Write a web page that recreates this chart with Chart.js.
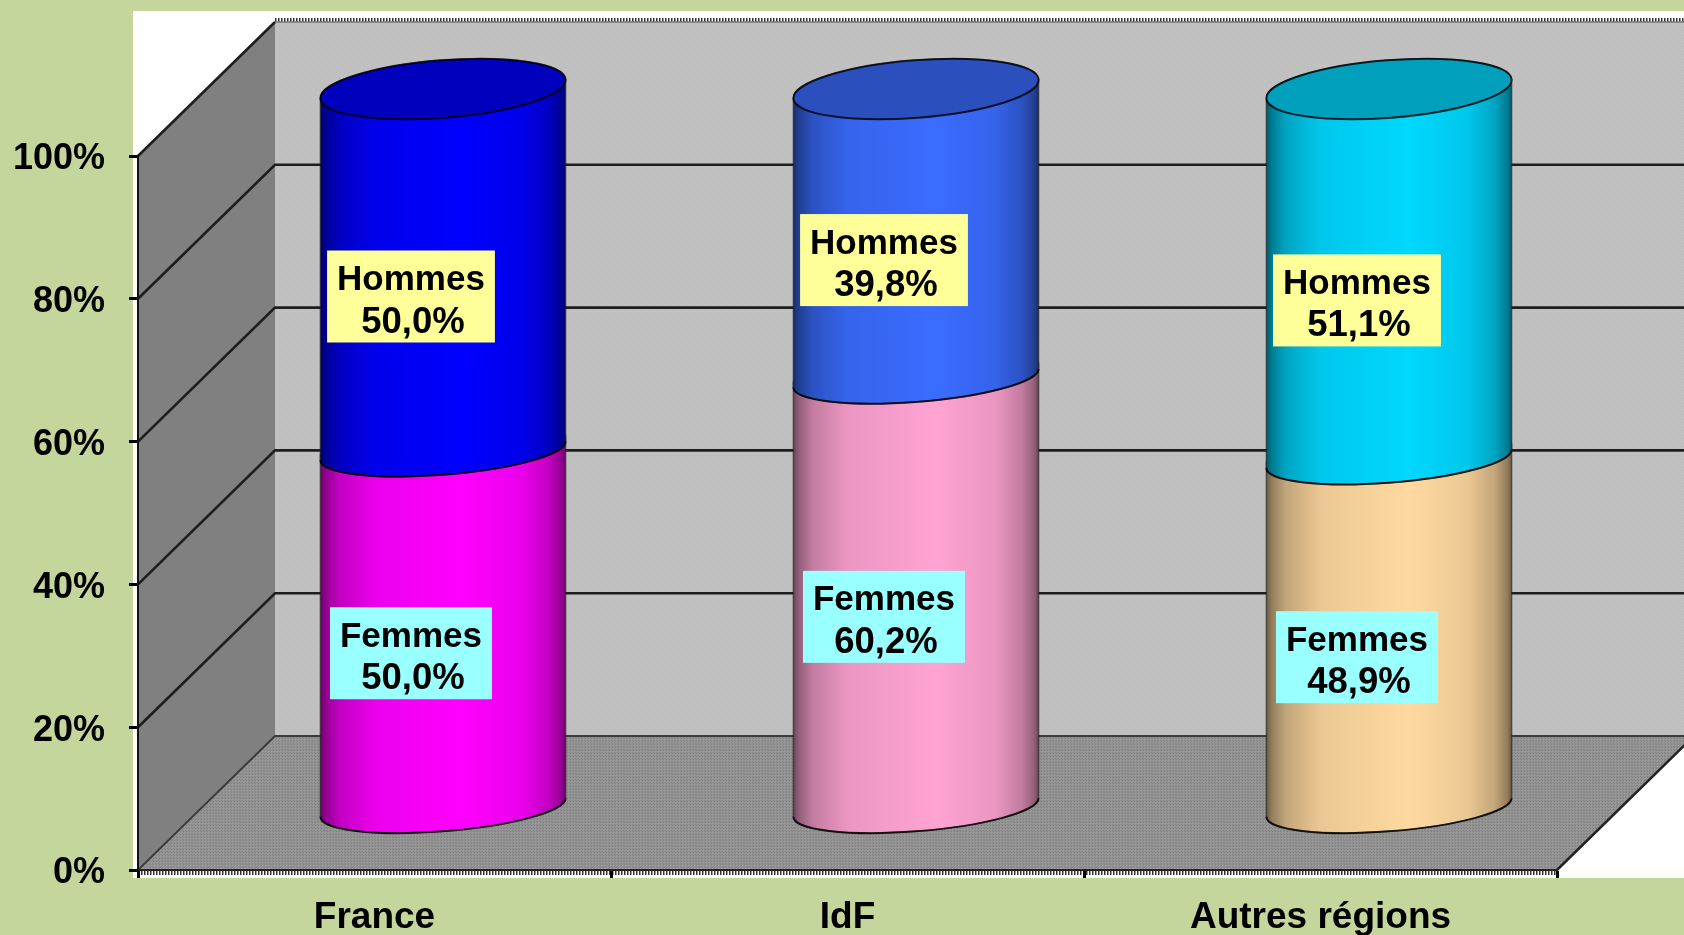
<!DOCTYPE html>
<html lang="fr">
<head>
<meta charset="utf-8">
<title>Hommes / Femmes</title>
<script src="https://cdn.jsdelivr.net/npm/chart.js@4"></script>
<style>
html,body{margin:0;padding:0;background:#c4d69b;overflow:hidden}
canvas{display:block}
</style>
</head>
<body>
<canvas id="c" width="1684" height="935"></canvas>
<script>
const categories = ['France', 'IdF', 'Autres régions'];
const femmes = [50.0, 60.2, 48.9];
const hommes = [50.0, 39.8, 51.1];
const femmesColors = ['#ff00ff', '#ffa3d3', '#ffd9a0'];
const hommesColors = ['#0000ff', '#3a6cff', '#00d8ff'];
const yTicks = [0, 20, 40, 60, 80, 100];

const DEPTH_X = 137, DEPTH_Y = 134;
const FONT = '"Liberation Sans", Arial, sans-serif';

function shade(hex, f) {
  const n = parseInt(hex.slice(1), 16);
  const r = Math.round(((n >> 16) & 255) * f), g = Math.round(((n >> 8) & 255) * f), b = Math.round((n & 255) * f);
  return `rgb(${r},${g},${b})`;
}
function pattern(ctx, size, base, dots) {
  const p = document.createElement('canvas');
  p.width = p.height = size;
  const g = p.getContext('2d');
  g.fillStyle = base; g.fillRect(0, 0, size, size);
  dots.forEach(([x, y, c]) => { g.fillStyle = c; g.fillRect(x, y, 1, 1); });
  return ctx.createPattern(p, 'repeat');
}
function poly(ctx, pts, fill) {
  ctx.beginPath();
  pts.forEach(([x, y], i) => i ? ctx.lineTo(x, y) : ctx.moveTo(x, y));
  ctx.closePath();
  ctx.fillStyle = fill;
  ctx.fill();
}

const sceneryPlugin = {
  id: 'scenery',
  beforeDraw(chart) {
    const { ctx, chartArea: a, scales: { y } } = chart;
    const W = chart.width;
    ctx.save();
    ctx.fillStyle = '#c4d69b'; ctx.fillRect(0, 0, W, chart.height);
    ctx.fillStyle = '#ffffff'; ctx.fillRect(133, 11, W - 133, 867);
    const L = a.left, R = a.right, B = a.bottom, T = a.top;
    poly(ctx, [[L + DEPTH_X, T - DEPTH_Y], [W + 20, T - DEPTH_Y], [W + 20, B - DEPTH_Y], [L + DEPTH_X, B - DEPTH_Y]],
      pattern(ctx, 8, '#c0c0c0', [[1, 1, '#c9c9c9'], [5, 5, '#c9c9c9'], [3, 6, '#b9b9b9']]));
    poly(ctx, [[L, T], [L + DEPTH_X, T - DEPTH_Y], [L + DEPTH_X, B - DEPTH_Y], [L, B]], '#808080');
    poly(ctx, [[L, B], [R, B], [R + DEPTH_X, B - DEPTH_Y], [L + DEPTH_X, B - DEPTH_Y]],
      pattern(ctx, 3, '#929292', [[0, 0, '#7f7f7f'], [1, 1, '#a0a0a0'], [2, 2, '#858585']]));
    yTicks.forEach(v => {
      const py = y.getPixelForValue(v);
      ctx.lineWidth = v === 0 ? 1.8 : 2.6;
      ctx.strokeStyle = v === 0 ? '#3a3a3a' : '#1e1e1e';
      ctx.beginPath();
      ctx.moveTo(L, py);
      ctx.lineTo(L + DEPTH_X, py - DEPTH_Y);
      if (v !== 100) ctx.lineTo(W + 20, py - DEPTH_Y);
      ctx.stroke();
    });
    ctx.strokeStyle = '#222'; ctx.lineWidth = 2.5;
    ctx.beginPath(); ctx.moveTo(R, B); ctx.lineTo(R + DEPTH_X, B - DEPTH_Y); ctx.stroke();
    ctx.strokeStyle = '#333'; ctx.lineWidth = 4; ctx.setLineDash([1.5, 1.5]);
    ctx.beginPath(); ctx.moveTo(L + DEPTH_X, T - DEPTH_Y - 2); ctx.lineTo(W, T - DEPTH_Y - 2); ctx.stroke();
    ctx.beginPath(); ctx.moveTo(L, B + 3); ctx.lineTo(R, B + 3); ctx.stroke();
    ctx.setLineDash([]);
    ctx.strokeStyle = '#777'; ctx.lineWidth = 1.5;
    ctx.beginPath(); ctx.moveTo(L + DEPTH_X, T - DEPTH_Y); ctx.lineTo(W, T - DEPTH_Y); ctx.stroke();
    ctx.restore();
  },
  beforeDatasetsDraw(chart) {
    const { ctx } = chart;
    const TILT = -4.5 * Math.PI / 180, RATIO = 29 / 124;
    const t0 = Math.atan(-RATIO * Math.tan(TILT));
    ctx.save();
    chart.data.datasets.forEach((ds, di) => {
      const meta = chart.getDatasetMeta(di);
      const last = di === chart.data.datasets.length - 1;
      meta.data.forEach((el, i) => {
        const { x, y, base, width } = el.getProps(['x', 'y', 'base', 'width'], true);
        const col = ds.backgroundColor[i];
        const cx = x + DEPTH_X / 2, a = width / 2, b = a * RATIO;
        const topY = y - DEPTH_Y / 2, botY = base - DEPTH_Y / 2;
        const g = ctx.createLinearGradient(cx - a, 0, cx + a, 0);
        [[0, .42], [.025, .58], [.08, .76], [.22, .92], [.58, 1], [.82, .92], [.93, .76], [.98, .58], [1, .42]]
          .forEach(([s, f]) => g.addColorStop(s, shade(col, f)));
        ctx.beginPath();
        ctx.ellipse(cx, botY + 5, a, b - 5, TILT, t0, t0 + Math.PI, false);
        ctx.ellipse(cx, topY, a, b, TILT, t0 + Math.PI, t0 + 2 * Math.PI, false);
        ctx.closePath();
        ctx.fillStyle = g; ctx.fill();
        ctx.lineWidth = 1.5; ctx.strokeStyle = 'rgba(30,30,30,.6)';
        ctx.stroke();
        ctx.lineWidth = 2; ctx.strokeStyle = 'rgba(0,0,0,.8)';
        ctx.beginPath();
        ctx.ellipse(cx, botY + 5, a, b - 5, TILT, t0, t0 + Math.PI, false);
        ctx.stroke();
        if (last) {
          ctx.beginPath();
          ctx.ellipse(cx, topY, a, b, TILT, 0, 2 * Math.PI);
          ctx.fillStyle = shade(col, .74); ctx.fill();
          ctx.stroke();
        }
      });
    });
    ctx.restore();
    return false; // cylinders replace the flat bars
  },
  afterDraw(chart) {
    const { ctx } = chart;
    ctx.save();
    ctx.textAlign = 'center'; ctx.textBaseline = 'middle';
    chart.data.datasets.forEach((ds, di) => {
      chart.getDatasetMeta(di).data.forEach((el, i) => {
        const { x, y, base } = el.getProps(['x', 'y', 'base'], true);
        const lx = x + DEPTH_X / 2 - 32, ly = (y + base) / 2 - DEPTH_Y / 2 + 29;
        const l1 = ds.label, l2 = ds.data[i].toFixed(1).replace('.', ',') + '%';
        ctx.font = `bold 35px ${FONT}`;
        const w = ctx.measureText(l1).width + 20;
        ctx.fillStyle = ds.labelBox;
        ctx.fillRect(lx - w / 2, ly - 46, w, 92);
        ctx.fillStyle = '#000';
        ctx.fillText(l1, lx, ly - 16);
        ctx.font = `bold 36.5px ${FONT}`;
        ctx.fillText(l2, lx + 2, ly + 26);
      });
    });
    ctx.restore();
  }
};

new Chart(document.getElementById('c'), {
  type: 'bar',
  data: {
    labels: categories,
    datasets: [
      { label: 'Femmes', data: femmes, backgroundColor: femmesColors, labelBox: '#99ffff' },
      { label: 'Hommes', data: hommes, backgroundColor: hommesColors, labelBox: '#ffff99' }
    ]
  },
  options: {
    responsive: false,
    animation: false,
    devicePixelRatio: 1,
    barPercentage: 0.52,
    categoryPercentage: 1,
    layout: { padding: { left: 0, top: 156, right: 127, bottom: 0 } },
    plugins: { legend: { display: false }, title: { display: false }, tooltip: { enabled: false } },
    scales: {
      x: {
        stacked: true,
        afterFit(s) { s.height = 65; },
        grid: { drawOnChartArea: false, drawTicks: true, tickLength: 8, tickColor: '#000', tickWidth: 3, offset: true },
        border: { display: true, color: '#222', width: 2 },
        ticks: { color: '#000', padding: 18, maxRotation: 0, autoSkip: false, font: { family: FONT, weight: 'bold', size: 37 } }
      },
      y: {
        stacked: true,
        min: 0, max: 100,
        afterFit(s) { s.width = 138; },
        afterBuildTicks(s) { s.ticks = yTicks.map(v => ({ value: v })); },
        grid: { drawOnChartArea: false, drawTicks: true, tickLength: 9, tickColor: '#000', tickWidth: 3 },
        border: { display: true, color: '#111', width: 2 },
        ticks: { color: '#000', padding: 24, labelOffset: 3.5, font: { family: FONT, weight: 'bold', size: 36 }, callback: v => v + '%' }
      }
    }
  },
  plugins: [sceneryPlugin]
});
</script>
</body>
</html>
